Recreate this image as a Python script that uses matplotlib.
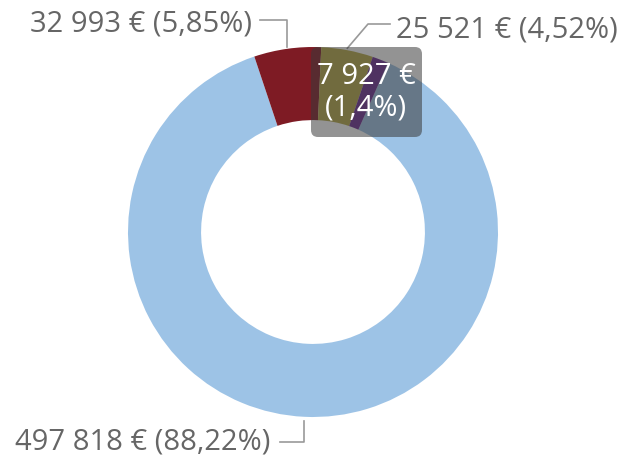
import numpy as np
import matplotlib.pyplot as plt
from matplotlib.patches import FancyBboxPatch

plt.rcParams["font.family"] = ["Open Sans", "DejaVu Sans"]

# Données (valeurs en €)
valeurs = [497818, 32993, 25521, 7927]
etiquettes = ["497 818 € (88,22%)", "32 993 € (5,85%)", "25 521 € (4,52%)", "7 927 €\n(1,4%)"]
couleurs = ["#9DC3E6", "#7E1B24", "#B5A843", "#6A2A92"]

W, H = 622, 458
CX, CY = 313, H - 232
R = 185
LARGEUR = 0.395
GRIS = "#666666"
TAILLE = 21

fig = plt.figure(figsize=(W / 100, H / 100), dpi=100)
ax = fig.add_axes([0, 0, 1, 1])

wedges, _ = ax.pie(
    valeurs,
    colors=couleurs,
    startangle=66.1,
    counterclock=False,
    center=(CX, CY),
    radius=R,
    frame=True,
    wedgeprops=dict(width=R * LARGEUR, edgecolor="none"),
)

ax.set_xlim(0, W)
ax.set_ylim(0, H)
ax.set_aspect("equal")
ax.axis("off")


def ancre(w):
    a = np.deg2rad((w.theta1 + w.theta2) / 2)
    return CX + R * np.cos(a), CY + R * np.sin(a)


# Étiquettes avec lignes de rappel
# 497 818 € (bas gauche)
x0, y0 = ancre(wedges[0])
ax.plot([280, x0, x0], [H - 442, H - 442, y0 - 4], color="#999999", lw=1.2)
ax.text(270, H - 442, etiquettes[0], ha="right", va="center", fontsize=TAILLE, color=GRIS)

# 32 993 € (haut gauche)
x1, y1 = ancre(wedges[1])
ax.plot([260, x1, x1], [H - 20, H - 20, y1 + 2], color="#999999", lw=1.2)
ax.text(252, H - 24, etiquettes[1], ha="right", va="center", fontsize=TAILLE, color=GRIS)

# 25 521 € (haut droite)
x2, y2 = ancre(wedges[2])
ax.plot([390, 368, x2], [H - 24, H - 24, y2 + 2], color="#999999", lw=1.2)
ax.text(396, H - 30, etiquettes[2], ha="left", va="center", fontsize=TAILLE, color=GRIS)

# 7 927 € (boîte sombre)
boite = FancyBboxPatch((311, H - 137), 111, 90,
                       boxstyle="round,pad=0,rounding_size=7",
                       facecolor="#3A3A3A", alpha=0.55, edgecolor="none", zorder=3)
ax.add_patch(boite)
ax.text(366, H - 92, etiquettes[3], ha="center", va="center", fontsize=TAILLE,
        color="white", linespacing=1.1, zorder=4)

fig.savefig("out.png", dpi=100)
